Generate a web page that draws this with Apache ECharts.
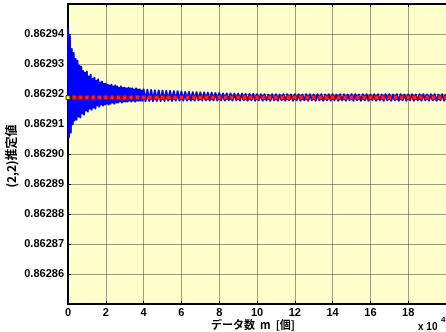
<!DOCTYPE html>
<html lang="ja">
  <head>
    <meta charset="UTF-8" />
    <title>(2,2)推定値</title>
    <script src="https://cdn.jsdelivr.net/npm/echarts@6.0.0/dist/echarts.min.js"></script>
    <style>
      html, body { margin: 0; padding: 0; background: #fff; }
    </style>
  </head>
  <body>
    <div id="main" style="width: 446px; height: 332px"></div>
    <script type="text/javascript">
      // x in units of 10^4 samples
      // early part (0 .. 4), one estimate every 0.05
      const earlyStep = 0.05;
      const earlyEstimates = [
        0.862942, 0.8629056, 0.8629393, 0.8629072, 0.862935, 0.8629099, 0.8629337, 0.8629112, 0.8629317, 0.8629115,
        0.8629311, 0.8629125, 0.8629294, 0.8629122, 0.8629291, 0.8629135, 0.8629277, 0.8629132, 0.8629271, 0.8629145,
        0.8629274, 0.8629142, 0.8629258, 0.8629152, 0.8629264, 0.8629148, 0.8629251, 0.8629155, 0.8629254, 0.8629152,
        0.8629244, 0.8629162, 0.8629248, 0.8629158, 0.8629238, 0.8629165, 0.8629241, 0.8629162, 0.8629234, 0.8629165,
        0.8629234, 0.8629168, 0.8629231, 0.8629165, 0.8629228, 0.8629168, 0.8629231, 0.8629172, 0.8629225, 0.8629168,
        0.8629228, 0.8629172, 0.8629225, 0.8629172, 0.8629221, 0.8629175, 0.8629225, 0.8629172, 0.8629221, 0.8629175,
        0.8629221, 0.8629175, 0.8629218, 0.8629175, 0.8629221, 0.8629178, 0.8629218, 0.8629175, 0.8629218, 0.8629178,
        0.8629215, 0.8629175, 0.8629218, 0.8629178, 0.8629215, 0.8629178, 0.8629215, 0.8629178, 0.8629211, 0.8629178,
        0.8629215
      ];
      // later part (4.1 .. 20), one estimate every 0.1
      const lateStart = 4.1;
      const lateStep = 0.1;
      const lateEstimates = [
        0.8629176, 0.8629214, 0.8629177, 0.8629213, 0.8629176, 0.8629212, 0.8629177, 0.8629212, 0.8629177,
        0.8629211, 0.8629177, 0.862921, 0.8629178, 0.862921, 0.8629177, 0.8629209, 0.8629178, 0.8629209, 0.8629178,
        0.8629208, 0.8629178, 0.8629207, 0.8629178, 0.8629207, 0.8629178, 0.8629206, 0.8629178, 0.8629206, 0.8629179,
        0.8629205, 0.8629178, 0.8629205, 0.8629179, 0.8629204, 0.8629178, 0.8629204, 0.8629179, 0.8629203, 0.8629178,
        0.8629203, 0.8629179, 0.8629202, 0.8629178, 0.8629202, 0.8629179, 0.8629202, 0.8629178, 0.8629201, 0.8629179,
        0.8629201, 0.8629178, 0.8629201, 0.8629179, 0.86292, 0.8629178, 0.86292, 0.8629179, 0.86292, 0.8629178,
        0.8629199, 0.8629179, 0.8629199, 0.8629178, 0.8629199, 0.8629179, 0.8629198, 0.8629178, 0.8629199, 0.8629179,
        0.8629199, 0.8629178, 0.8629198, 0.8629179, 0.8629199, 0.8629178, 0.8629199, 0.8629179, 0.8629198, 0.8629178,
        0.8629199, 0.8629179, 0.8629199, 0.8629178, 0.8629198, 0.8629179, 0.8629199, 0.8629178, 0.8629199, 0.8629179,
        0.8629198, 0.8629178, 0.8629199, 0.8629179, 0.8629199, 0.8629178, 0.8629198, 0.8629179, 0.8629199, 0.8629178,
        0.8629199, 0.8629179, 0.8629198, 0.8629178, 0.8629199, 0.8629179, 0.8629199, 0.8629178, 0.8629198, 0.8629179,
        0.8629199, 0.8629178, 0.8629199, 0.8629179, 0.8629198, 0.8629178, 0.8629199, 0.8629179, 0.8629199, 0.8629178,
        0.8629198, 0.8629179, 0.8629199, 0.8629178, 0.8629199, 0.8629179, 0.8629198, 0.8629178, 0.8629199, 0.8629179,
        0.8629199, 0.8629178, 0.8629198, 0.8629179, 0.8629199, 0.8629178, 0.8629199, 0.8629179, 0.8629198, 0.8629178,
        0.8629199, 0.8629179, 0.8629199, 0.8629178, 0.8629198, 0.8629179, 0.8629199, 0.8629178, 0.8629199, 0.8629179,
        0.8629198, 0.8629178, 0.8629199, 0.8629179, 0.8629199, 0.8629178, 0.8629198, 0.8629179, 0.8629199, 0.8629178,
        0.8629199
      ];
      // true value, drawn as red square markers (every 1/3 x 10^4)
      const trueValue = 0.8629188;
      const markerCount = 61;
      const xTicks = [0, 2, 4, 6, 8, 10, 12, 14, 16, 18, 20];
      const yTicks = [0.86285, 0.86286, 0.86287, 0.86288, 0.86289, 0.8629, 0.86291, 0.86292, 0.86293, 0.86294, 0.86295];

      const labelFont = { color: "#000", fontFamily: "Liberation Sans", fontWeight: "bold", fontSize: 11 };

      const blueData = earlyEstimates.map((v, i) => [i * earlyStep, v])
        .concat(lateEstimates.map((v, i) => [lateStart + i * lateStep, v]));
      const redData = [];
      for (let k = 0; k < markerCount; k++) {
        const p = { value: [k / 3, trueValue] };
        if (k === 0) p.itemStyle = { color: "#ffff00", borderColor: "#333300", borderWidth: 1 };
        redData.push(p);
      }

      let myChart = echarts.init(document.getElementById("main"));
      let options = {
        animation: false,
        backgroundColor: "#ffffff",
        grid: {
          left: 68, top: 4, right: -12, bottom: 28,
          show: true, backgroundColor: "#ffffcc", borderWidth: 0,
        },
        xAxis: [
          {
            type: "value",
            min: xTicks[0], max: xTicks[xTicks.length - 1], interval: 2,
            axisLine: { onZero: false, lineStyle: { color: "#000", width: 2 } },
            axisTick: { inside: true, length: 3, lineStyle: { color: "#000" } },
            axisLabel: Object.assign({ margin: 3, showMaxLabel: false }, labelFont),
            splitLine: { show: true, lineStyle: { color: "rgba(60,60,40,0.5)", width: 1 } },
          },
          {
            type: "value", position: "top",
            min: xTicks[0], max: xTicks[xTicks.length - 1], interval: 2,
            axisLine: { onZero: false, lineStyle: { color: "#000", width: 2 } },
            axisTick: { inside: true, length: 3, lineStyle: { color: "#000" } },
            axisLabel: { show: false },
            splitLine: { show: false },
          },
        ],
        yAxis: {
          type: "value",
          min: yTicks[0], max: yTicks[yTicks.length - 1], interval: 0.00001,
          axisLine: { show: true, onZero: false, lineStyle: { color: "#000", width: 2 } },
          axisTick: { show: true, inside: true, length: 3, lineStyle: { color: "#000" } },
          axisLabel: Object.assign({
            margin: 4, showMinLabel: false, showMaxLabel: false,
            formatter: (v) => v.toFixed(5),
          }, labelFont),
          splitLine: { show: true, lineStyle: { color: "rgba(60,60,40,0.5)", width: 1 } },
        },
        graphic: [
          {
            type: "text", x: 11, y: 156, rotation: Math.PI / 2,
            style: {
              text: "(2,2)推定値", fill: "#000",
              font: "bold 12px 'Noto Sans CJK JP'", align: "center", verticalAlign: "middle",
            },
          },
          {
            type: "text", x: 253, y: 325,
            style: {
              text: "データ数  m  [個]", fill: "#000",
              font: "bold 11px 'Noto Sans CJK JP'", align: "center", verticalAlign: "middle",
            },
          },
          {
            type: "text", x: 418, y: 327,
            style: {
              text: "x 10", fill: "#000",
              font: "bold 10px 'Liberation Sans'", align: "left", verticalAlign: "middle",
            },
          },
          {
            type: "text", x: 441, y: 320,
            style: {
              text: "4", fill: "#000",
              font: "bold 8px 'Liberation Sans'", align: "left", verticalAlign: "middle",
            },
          },
        ],
        series: [
          {
            name: "estimate",
            type: "line",
            data: blueData,
            showSymbol: false,
            sampling: null,
            lineStyle: { color: "#0000ff", width: 2, join: "round" },
            itemStyle: { color: "#0000ff" },
            z: 2,
          },
          {
            name: "true",
            type: "line",
            data: redData,
            symbol: "rect",
            symbolSize: 4,
            lineStyle: { color: "#ff0000", width: 1, opacity: 0 },
            itemStyle: { color: "#ff2222", borderColor: "#c00000", borderWidth: 1 },
            z: 3,
          },
        ],
      };
      myChart.setOption(options);
    </script>
  </body>
</html>
